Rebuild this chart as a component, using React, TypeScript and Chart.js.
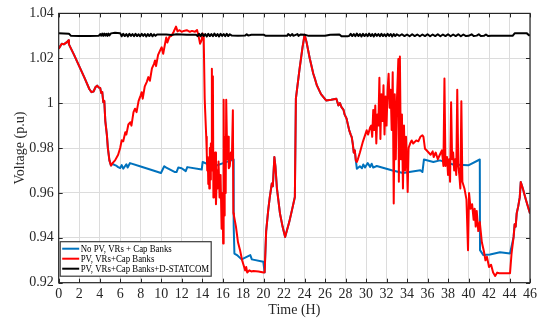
import React, { useEffect, useRef } from "react";
import { Chart, registerables } from "chart.js";

Chart.register(...registerables);

// Time axis ticks (hours) and voltage ticks (p.u)
const timeTicks: number[] = [0, 2, 4, 6, 8, 10, 12, 14, 16, 18, 20, 22, 24, 26, 28, 30, 32, 34, 36, 38, 40, 42, 44, 46];
const voltageTicks: number[] = [0.92, 0.94, 0.96, 0.98, 1.0, 1.02, 1.04];

const seriesNames: string[] = [
  "No PV, VRs + Cap Banks",
  "PV, VRs+Cap Banks",
  "PV, VRs+Cap Banks+D-STATCOM",
];

// PV, VRs + Cap Banks  [time (h), voltage (p.u)]
const pvCapPoints: [number, number][] = [
  [0, 1.0243], [0.3, 1.0265], [0.5, 1.0262], [0.8, 1.0272], [0.95, 1.028], [1.0, 1.0262],
  [1.5, 1.0215], [2.0, 1.0165], [2.5, 1.0115], [3.0, 1.0062], [3.2, 1.0049], [3.4, 1.0052],
  [3.6, 1.0072], [3.75, 1.0078], [3.9, 1.007], [4.05, 1.0068], [4.15, 1.0045], [4.25, 1.005],
  [4.35, 1.0005], [4.45, 1.001], [4.55, 0.992], [4.7, 0.986], [4.8, 0.98], [4.95, 0.9745],
  [5.1, 0.9722], [5.3, 0.9735], [5.5, 0.9745], [5.8, 0.977], [6.0, 0.98], [6.15, 0.9835],
  [6.3, 0.983], [6.5, 0.987], [6.6, 0.986], [6.8, 0.9905], [7.0, 0.9915], [7.1, 0.99],
  [7.3, 0.996], [7.45, 0.9975], [7.6, 0.996], [7.8, 1.001], [8.0, 1.0035], [8.1, 1.0049],
  [8.2, 1.002], [8.4, 1.0075], [8.6, 1.0095], [8.75, 1.0116], [8.9, 1.01], [9.1, 1.0155],
  [9.3, 1.0175], [9.4, 1.019], [9.5, 1.0165], [9.7, 1.0215], [9.9, 1.0235], [10.05, 1.0249],
  [10.2, 1.022], [10.4, 1.027], [10.5, 1.0293], [10.6, 1.027], [10.8, 1.0295], [11.0, 1.03],
  [11.2, 1.0316], [11.45, 1.0341], [11.6, 1.032], [11.8, 1.0325], [12.0, 1.0318], [12.2, 1.0322],
  [12.5, 1.0325], [12.8, 1.0318], [13.0, 1.0322], [13.3, 1.0318], [13.5, 1.0326], [13.65, 1.03],
  [13.8, 1.0265], [13.95, 1.028], [14.05, 1.031], [14.15, 1.03],
  [14.25, 1.002], [14.3, 0.996], [14.4, 0.985], [14.45, 0.978], [14.5, 0.97], [14.55, 0.976],
  [14.6, 0.964], [14.65, 0.975], [14.7, 0.962], [14.75, 0.98], [14.8, 0.966], [14.85, 0.982],
  [14.9, 0.97], [14.95, 1.0153], [15.0, 0.975], [15.05, 1.012], [15.1, 0.958], [15.15, 0.978],
  [15.2, 0.962], [15.3, 0.978], [15.35, 0.955], [15.45, 0.97], [15.5, 0.962], [15.6, 0.974],
  [15.7, 0.958], [15.8, 0.968], [15.9, 0.944], [16.0, 0.96], [16.05, 0.9375], [16.1, 1.0015],
  [16.15, 0.95], [16.2, 0.985], [16.3, 0.96], [16.35, 1.0015], [16.45, 0.975], [16.55, 0.985],
  [16.6, 0.971], [16.7, 0.972], [16.8, 0.978], [16.9, 0.975], [17.0, 0.9968], [17.05, 0.951],
  [17.1, 0.95], [17.3, 0.945], [17.5, 0.938], [17.7, 0.9345], [17.9, 0.93], [18.1, 0.927],
  [18.2, 0.9255], [18.3, 0.927], [18.4, 0.9245], [18.6, 0.9255], [18.8, 0.925], [19.0, 0.9252],
  [19.5, 0.925], [20.0, 0.9245], [20.1, 0.9246],
  [20.25, 0.943], [20.45, 0.9523], [20.6, 0.958], [20.8, 0.9642], [20.9, 0.963], [21.05, 0.976],
  [21.15, 0.972], [21.3, 0.962], [21.6, 0.9508], [21.85, 0.945], [22.1, 0.9404], [22.5, 0.947],
  [22.8, 0.953], [23.05, 0.9582], [23.15, 1.002], [23.5, 1.015], [23.8, 1.025], [24.0, 1.0305],
  [24.2, 1.027], [24.5, 1.02], [24.85, 1.0131], [25.0, 1.011], [25.2, 1.0079], [25.6, 1.004],
  [26.1, 1.0012], [26.6, 1.0015], [27.1, 1.002], [27.3, 0.999], [27.45, 1.0], [27.6, 0.9982],
  [27.8, 0.997], [27.9, 0.995], [28.1, 0.9931], [28.2, 0.991], [28.35, 0.988], [28.5, 0.986],
  [28.6, 0.9849], [28.7, 0.982], [28.8, 0.978], [28.9, 0.979], [29.0, 0.9745], [29.1, 0.9738],
  [29.2, 0.975], [29.4, 0.978], [29.7, 0.983], [30.06, 0.9879], [30.2, 0.986], [30.4, 0.9893],
  [30.5, 0.99], [30.6, 0.985], [30.7, 0.997], [30.8, 0.988], [30.9, 0.999], [31.0, 0.982],
  [31.1, 0.995], [31.2, 0.99], [31.3, 1.0113], [31.4, 0.984], [31.5, 1.004], [31.6, 0.992],
  [31.7, 1.008], [31.8, 0.986], [31.9, 1.003], [32.0, 0.99], [32.1, 1.006], [32.2, 1.0131],
  [32.3, 0.998], [32.4, 1.006], [32.5, 0.988], [32.6, 1.0138], [32.7, 0.9553], [32.8, 1.004],
  [32.9, 0.975], [33.0, 1.0], [33.15, 1.0197], [33.2, 0.965], [33.3, 1.0208], [33.4, 0.975],
  [33.5, 0.995], [33.6, 0.962], [33.7, 0.99], [33.8, 0.97], [33.9, 0.985], [34.0, 0.972],
  [34.06, 0.9604], [34.15, 0.98], [34.3, 0.982], [34.45, 0.9834], [34.6, 0.982], [34.9, 0.9834],
  [35.1, 0.983], [35.3, 0.985], [35.5, 0.9857], [35.6, 0.985], [35.75, 0.9797], [35.9, 0.979],
  [36.1, 0.978], [36.3, 0.977], [36.5, 0.9785], [36.6, 0.976], [36.8, 0.978], [37.0, 0.975],
  [37.2, 0.977], [37.4, 0.979], [37.55, 0.972], [37.65, 1.011], [37.75, 0.972], [37.9, 0.976],
  [38.0, 0.968], [38.1, 0.975], [38.2, 0.965], [38.3, 1.0004], [38.4, 0.975], [38.5, 0.978],
  [38.6, 0.97], [38.7, 0.975], [38.8, 0.968], [38.9, 1.006], [39.0, 0.972], [39.1, 0.968],
  [39.2, 0.962], [39.3, 1.0008], [39.4, 0.965], [39.6, 0.962], [39.8, 0.957], [39.95, 0.9345],
  [40.05, 0.96], [40.2, 0.953], [40.35, 0.955], [40.5, 0.948], [40.6, 0.953], [40.7, 0.945],
  [40.8, 0.952], [40.95, 0.943], [41.1, 0.947], [41.3, 0.938], [41.5, 0.934], [41.65, 0.93],
  [41.8, 0.9315], [42.0, 0.927], [42.2, 0.928], [42.4, 0.9245], [42.6, 0.923], [42.8, 0.9245],
  [43.0, 0.9242], [43.5, 0.9242], [44.05, 0.9242], [44.2, 0.933], [44.4, 0.9404], [44.5, 0.946],
  [44.6, 0.945], [44.7, 0.9508], [44.85, 0.954], [45.0, 0.958], [45.1, 0.9649], [45.3, 0.962],
  [45.6, 0.957], [46.0, 0.9508],
];

// No PV case: the stretches where it departs from the PV curve
const noPvDayPoints: [number, number][] = [
  [5.2, 0.973], [5.6, 0.9722], [5.8, 0.9715], [6.0, 0.9711], [6.15, 0.9724], [6.3, 0.9708],
  [6.6, 0.9728], [6.73, 0.9713], [6.96, 0.9733], [8.0, 0.9718], [9.0, 0.9703], [9.98, 0.9689],
  [10.3, 0.9719], [10.5, 0.9713], [11.35, 0.9693], [11.5, 0.9693], [11.67, 0.9713], [12.0, 0.971],
  [12.4, 0.9697], [12.55, 0.9715], [13.96, 0.9704], [14.05, 0.9738], [14.6, 0.9727], [15.4, 0.9722],
  [16.2, 0.9735], [17.05, 0.9749], [17.08, 0.945], [17.15, 0.933], [17.4, 0.9323], [17.85, 0.9304],
  [18.7, 0.9323], [18.85, 0.9304], [19.97, 0.9293],
];
const noPvSecondDayPoints: [number, number][] = [
  [29.1, 0.9708], [29.4, 0.9719], [29.6, 0.971], [29.73, 0.9727], [29.9, 0.9713], [30.16, 0.9733],
  [30.4, 0.9716], [30.55, 0.973], [30.7, 0.9713], [31.04, 0.972], [32.5, 0.9701], [33.6, 0.9689],
  [35.3, 0.9701], [35.5, 0.9693], [35.65, 0.9749], [36.57, 0.9738], [37.2, 0.9745], [38.5, 0.9727],
  [39.98, 0.9723], [41.1, 0.9749], [41.12, 0.9345], [41.45, 0.9323], [42.1, 0.9326], [43.07, 0.9336],
  [44.05, 0.933],
];

// PV + VRs + Cap Banks + D-STATCOM
const statcomPoints: [number, number][] = [
  [0, 1.0311], [0.5, 1.031], [1.0, 1.0309], [1.2, 1.03], [2.0, 1.0299], [3.0, 1.0299], [3.9, 1.03],
  [4.05, 1.0308], [4.15, 1.0301], [4.25, 1.031], [4.35, 1.03], [4.45, 1.031], [4.55, 1.0301],
  [4.65, 1.0309], [4.75, 1.03], [4.85, 1.031], [4.95, 1.0302], [5.1, 1.0311], [5.5, 1.0314],
  [6.0, 1.0312], [6.15, 1.0298], [6.3, 1.0309], [6.45, 1.0299], [6.6, 1.0308], [6.75, 1.0297],
  [6.9, 1.0309], [7.05, 1.03], [7.2, 1.0308], [7.35, 1.0298], [7.5, 1.0309], [7.65, 1.0299],
  [7.8, 1.0307], [7.95, 1.0298], [8.1, 1.0309], [8.25, 1.03], [8.4, 1.0308], [8.55, 1.0297],
  [8.7, 1.0308], [8.85, 1.0299], [9.0, 1.0309], [9.15, 1.0298], [9.3, 1.0307], [9.45, 1.03],
  [9.6, 1.0306], [10.5, 1.0306], [11.0, 1.0304], [11.5, 1.0307], [12.5, 1.0305], [13.4, 1.0305],
  [13.55, 1.0299], [13.7, 1.0309], [13.85, 1.0298], [14.0, 1.031], [14.15, 1.0299], [14.3, 1.0308],
  [14.45, 1.0297], [14.6, 1.0309], [14.75, 1.0299], [14.9, 1.0308], [15.05, 1.0298], [15.2, 1.031],
  [15.35, 1.0299], [15.5, 1.0308], [15.65, 1.0297], [15.8, 1.0309], [15.95, 1.03], [16.1, 1.0308],
  [16.25, 1.0298], [16.4, 1.0309], [16.55, 1.0299], [16.7, 1.0307], [16.9, 1.0301], [17.5, 1.03],
  [18.2, 1.0301], [18.35, 1.0307], [18.5, 1.0301], [18.8, 1.0305], [20.0, 1.0305], [20.2, 1.03],
  [22.3, 1.03], [22.4, 1.0308], [22.6, 1.03], [22.8, 1.0308], [22.9, 1.03], [23.3, 1.0308],
  [23.4, 1.03], [23.6, 1.0306], [24.0, 1.0305], [24.4, 1.03], [26.0, 1.03], [26.5, 1.0305],
  [27.4, 1.0306], [27.6, 1.0298], [28.2, 1.0298], [28.35, 1.03], [28.5, 1.0309], [28.65, 1.0299],
  [28.8, 1.0308], [28.95, 1.0298], [29.1, 1.031], [29.25, 1.0299], [29.4, 1.0308], [29.55, 1.0297],
  [29.7, 1.0309], [29.85, 1.0299], [30.0, 1.0308], [30.15, 1.0298], [30.3, 1.031], [30.45, 1.0299],
  [30.6, 1.0308], [30.75, 1.0297], [30.9, 1.0309], [31.05, 1.03], [31.2, 1.0308], [31.35, 1.0298],
  [31.5, 1.0309], [31.65, 1.0299], [31.8, 1.0307], [31.95, 1.0298], [32.1, 1.0309], [32.25, 1.03],
  [32.4, 1.0308], [32.55, 1.0297], [32.7, 1.0308], [32.85, 1.0299], [33.0, 1.0307], [33.25, 1.03],
  [33.5, 1.0307], [33.75, 1.0299], [34.0, 1.0306], [34.25, 1.0298], [34.5, 1.0307], [34.75, 1.0299],
  [35.0, 1.0306], [35.25, 1.0298], [35.5, 1.0306], [35.75, 1.0299], [36.0, 1.0307], [36.25, 1.0298],
  [36.5, 1.0306], [36.75, 1.0299], [37.0, 1.0307], [37.25, 1.0298], [37.5, 1.0306], [37.75, 1.0299],
  [38.0, 1.0307], [38.25, 1.0298], [38.5, 1.0306], [38.75, 1.0299], [39.0, 1.0307], [39.25, 1.0298],
  [39.5, 1.0306], [39.75, 1.0299], [40.0, 1.03], [40.3, 1.0307], [40.5, 1.0299], [40.8, 1.0301],
  [41.0, 1.0307], [41.2, 1.0299], [41.5, 1.03], [41.7, 1.0306], [41.9, 1.0299], [42.2, 1.03],
  [42.4, 1.03], [44.3, 1.03], [44.5, 1.0311], [45.0, 1.0312], [45.7, 1.0311], [45.9, 1.0303],
  [46.0, 1.0302],
];

const seriesColors: string[] = ["#0072BD", "#FF0000", "#000000"];

const SERIF = "'Liberation Serif', 'Times New Roman', serif";

// The No PV curve shares the PV curve outside the daylight stretches
function buildNoPv(): [number, number][] {
  const pick = (a: number, b: number) => pvCapPoints.filter(([t]) => t >= a && t <= b);
  return [
    ...pick(0, 5.1),
    ...noPvDayPoints,
    ...pick(20.1, 29.0),
    ...noPvSecondDayPoints,
    ...pick(44.4, 46),
  ];
}

const toXY = (pts: [number, number][]) => pts.map(([x, y]) => ({ x, y }));

// Boxed legend in the lower-left corner and MATLAB-like inward ticks with frame
const framePlugin = {
  id: "frameAndLegend",
  afterDatasetsDraw(chart: any) {
    const { ctx, chartArea } = chart;
    const { left, right, top, bottom } = chartArea;
    const xs = chart.scales.x;
    const ys = chart.scales.y;
    ctx.save();
    ctx.strokeStyle = "#262626";
    ctx.lineWidth = 1;
    ctx.beginPath();
    const tick = 4;
    for (const t of timeTicks) {
      const px = Math.round(xs.getPixelForValue(t)) + 0.5;
      ctx.moveTo(px, bottom);
      ctx.lineTo(px, bottom - tick);
      ctx.moveTo(px, top);
      ctx.lineTo(px, top + tick);
    }
    for (const v of voltageTicks) {
      const py = Math.round(ys.getPixelForValue(v)) + 0.5;
      ctx.moveTo(left, py);
      ctx.lineTo(left + tick, py);
      ctx.moveTo(right, py);
      ctx.lineTo(right - tick, py);
    }
    ctx.stroke();
    ctx.lineWidth = 1.2;
    ctx.strokeRect(left, top, right - left, bottom - top);

    // legend box
    const bx = left + 1.5;
    const by = bottom - 41;
    const bw = 151;
    const bh = 34.5;
    ctx.fillStyle = "#ffffff";
    ctx.fillRect(bx, by, bw, bh);
    ctx.strokeStyle = "#3a3a3a";
    ctx.lineWidth = 1.2;
    ctx.strokeRect(bx, by, bw, bh);
    ctx.textBaseline = "middle";
    ctx.textAlign = "left";
    seriesNames.forEach((name, i) => {
      const cy = by + 7 + i * 10;
      ctx.strokeStyle = seriesColors[i];
      ctx.lineWidth = 2;
      ctx.beginPath();
      ctx.moveTo(bx + 2, cy);
      ctx.lineTo(bx + 19, cy);
      ctx.stroke();
      // slightly condensed legend lettering
      ctx.save();
      ctx.translate(bx + 20.5, cy + 0.5);
      ctx.scale(0.84, 1);
      ctx.font = `10.5px ${SERIF}`;
      ctx.fillStyle = "#000000";
      ctx.fillText(name, 0, 0);
      ctx.restore();
    });
    ctx.restore();
  },
};

export default function App() {
  const canvasRef = useRef<HTMLCanvasElement | null>(null);

  useEffect(() => {
    if (!canvasRef.current) return;
    const noPv = buildNoPv();
    const chart = new Chart(canvasRef.current, {
      type: "line",
      data: {
        datasets: [
          {
            label: seriesNames[0],
            data: toXY(noPv),
            borderColor: seriesColors[0],
            borderWidth: 2,
            pointRadius: 0,
            order: 2,
          },
          {
            label: seriesNames[1],
            data: toXY(pvCapPoints),
            borderColor: seriesColors[1],
            borderWidth: 2,
            pointRadius: 0,
            order: 1,
          },
          {
            label: seriesNames[2],
            data: toXY(statcomPoints),
            borderColor: seriesColors[2],
            borderWidth: 2,
            pointRadius: 0,
            order: 0,
          },
        ],
      },
      options: {
        animation: false,
        responsive: false,
        devicePixelRatio: 1,
        layout: { padding: { left: 0, right: 21, top: 12.7, bottom: 0 } },
        plugins: {
          legend: { display: false },
          tooltip: { enabled: false },
        },
        elements: { line: { tension: 0, borderJoinStyle: "round" } },
        scales: {
          x: {
            type: "linear",
            min: 0,
            max: 46,
            afterBuildTicks: (scale: any) => {
              scale.ticks = timeTicks.map((v) => ({ value: v }));
            },
            afterFit: (scale: any) => {
              scale.height = 37.3;
            },
            ticks: {
              font: { family: SERIF, size: 14 },
              color: "#262626",
              padding: 3,
              maxRotation: 0,
              autoSkip: false,
            },
            grid: { color: "#dcdcdc", drawTicks: false, lineWidth: 1 },
            border: { display: false },
            title: {
              display: true,
              text: "Time (H)",
              font: { family: SERIF, size: 14 },
              color: "#262626",
              padding: { top: 0, bottom: 1.5 },
            },
          },
          y: {
            type: "linear",
            min: 0.92,
            max: 1.04,
            afterBuildTicks: (scale: any) => {
              scale.ticks = voltageTicks.map((v) => ({ value: v }));
            },
            afterFit: (scale: any) => {
              scale.width = 58.7;
            },
            ticks: {
              font: { family: SERIF, size: 14 },
              color: "#262626",
              padding: 5,
              callback: (v: any) => String(Number(Number(v).toFixed(2))),
            },
            grid: { color: "#dcdcdc", drawTicks: false, lineWidth: 1 },
            border: { display: false },
            title: {
              display: true,
              text: "Voltage (p.u)",
              font: { family: SERIF, size: 14 },
              color: "#262626",
              padding: { top: 12, bottom: 0 },
            },
          },
        },
      },
      plugins: [framePlugin],
    });
    return () => chart.destroy();
  }, []);

  return (
    <div style={{ position: "fixed", left: 0, top: 0, width: 551, height: 320, background: "#ffffff" }}>
      <canvas ref={canvasRef} width={551} height={320} />
    </div>
  );
}
